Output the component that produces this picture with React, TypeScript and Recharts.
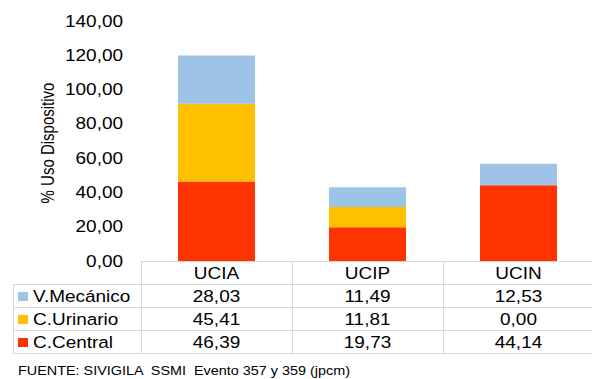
import { BarChart, Bar, XAxis, YAxis } from 'recharts'

const categories = ['UCIA', 'UCIP', 'UCIN']
const vMecanico = [28.03, 11.49, 12.53]
const cUrinario = [45.41, 11.81, 0.0]
const cCentral = [46.39, 19.73, 44.14]
const yTicks = [0, 20, 40, 60, 80, 100, 120, 140]

const seriesNames = ['V.Mecánico', 'C.Urinario', 'C.Central']
const seriesValues = [vMecanico, cUrinario, cCentral]
const seriesColors = ['#9DC3E6', '#FFC000', '#FF3300']

const footer = 'FUENTE: SIVIGILA  SSMI  Evento 357 y 359 (jpcm)'

const data = categories.map((cat, i) => ({
  cat,
  central: cCentral[i],
  urinario: cUrinario[i],
  mecanico: vMecanico[i],
}))

// source picture is stretched sideways, so text gets a small horizontal scale
const SX = 1.15
const FONT = 'Liberation Sans, Arial, sans-serif'

const W = 594
const H = 379
const PLOT_LEFT = 141
const PLOT_TOP = 21
const PLOT_BOTTOM = 261
const TABLE_LEFT = 13
const ROW_H = 23
const colW = (W - PLOT_LEFT) / categories.length

const fmt = (v: number) => v.toFixed(2).replace('.', ',')

function YTick({ x, y, payload }: any) {
  return (
    <text
      transform={`translate(${x},${y}) scale(${SX},1)`}
      textAnchor='end'
      dominantBaseline='central'
      fontSize={16.5}
      fontFamily={FONT}
      fill='#000'
    >
      {fmt(payload.value)}
    </text>
  )
}

function Table() {
  const grid = '#d9d9d9'
  const bottom = PLOT_BOTTOM + ROW_H * 4
  const lines = []
  lines.push(<line key='ht' x1={PLOT_LEFT} x2={W} y1={PLOT_BOTTOM + 0.5} y2={PLOT_BOTTOM + 0.5} stroke={grid} />)
  for (let r = 1; r <= 4; r++) {
    const y = PLOT_BOTTOM + ROW_H * r + 0.5
    lines.push(<line key={'h' + r} x1={TABLE_LEFT} x2={W} y1={y} y2={y} stroke={grid} />)
  }
  lines.push(<line key='vl' x1={TABLE_LEFT + 0.5} x2={TABLE_LEFT + 0.5} y1={PLOT_BOTTOM + ROW_H} y2={bottom} stroke={grid} />)
  for (let c = 0; c <= categories.length; c++) {
    const x = PLOT_LEFT + colW * c + 0.5
    lines.push(<line key={'v' + c} x1={x} x2={x} y1={PLOT_BOTTOM} y2={bottom} stroke={grid} />)
  }
  return (
    <svg
      width={592}
      height={H}
      style={{ position: 'absolute', left: 0, top: 0, pointerEvents: 'none' }}
      fontFamily={FONT}
    >
      {lines}
      {categories.map((cat, c) => (
        <text
          key={cat}
          transform={`translate(${PLOT_LEFT + colW * (c + 0.5)},${PLOT_BOTTOM + ROW_H / 2 + 1}) scale(${SX},1)`}
          textAnchor='middle'
          dominantBaseline='central'
          fontSize={16.5}
          fill='#000'
        >
          {cat}
        </text>
      ))}
      {seriesNames.map((name, r) => {
        const cy = PLOT_BOTTOM + ROW_H * (r + 1.5) + 1
        return (
          <g key={name}>
            <rect x={18} y={cy - 4.5} width={10} height={9} fill={seriesColors[r]} />
            <text
              transform={`translate(33,${cy}) scale(${SX},1)`}
              dominantBaseline='central'
              fontSize={16.5}
              fill='#000'
            >
              {name}
            </text>
            {seriesValues[r].map((v, c) => (
              <text
                key={c}
                transform={`translate(${PLOT_LEFT + colW * (c + 0.5)},${cy}) scale(${SX},1)`}
                textAnchor='middle'
                dominantBaseline='central'
                fontSize={16.5}
                fill='#000'
              >
                {fmt(v)}
              </text>
            ))}
          </g>
        )
      })}
      <text
        transform={`translate(48,${(PLOT_TOP + PLOT_BOTTOM) / 2 + 2}) rotate(-90) scale(1,${SX + 0.02})`}
        textAnchor='middle'
        dominantBaseline='central'
        fontSize={15}
        fill='#000'
      >
        % Uso Dispositivo
      </text>
      <text
        transform={`translate(18,375) scale(1.2,1)`}
        fontSize={12}
        fill='#000'
        style={{ whiteSpace: 'pre' }}
      >
        {footer}
      </text>
    </svg>
  )
}

export default function App() {
  return (
    <div
      style={{
        position: 'absolute',
        left: 0,
        top: 0,
        width: 592,
        height: H,
        overflow: 'hidden',
        background: '#fff',
      }}
    >
      <BarChart
        width={W}
        height={H}
        data={data}
        margin={{ top: PLOT_TOP, right: 0, bottom: H - PLOT_BOTTOM, left: 0 }}
      >
        <XAxis dataKey='cat' hide />
        <YAxis
          width={PLOT_LEFT}
          domain={[0, 140]}
          ticks={yTicks}
          axisLine={false}
          tickLine={false}
          tickSize={0}
          tickMargin={18}
          tick={<YTick />}
          interval={0}
        />
        <Bar dataKey='central' stackId='a' fill={seriesColors[2]} barSize={77} isAnimationActive={false} />
        <Bar dataKey='urinario' stackId='a' fill={seriesColors[1]} barSize={77} isAnimationActive={false} />
        <Bar dataKey='mecanico' stackId='a' fill={seriesColors[0]} barSize={77} isAnimationActive={false} />
      </BarChart>
      <Table />
    </div>
  )
}
